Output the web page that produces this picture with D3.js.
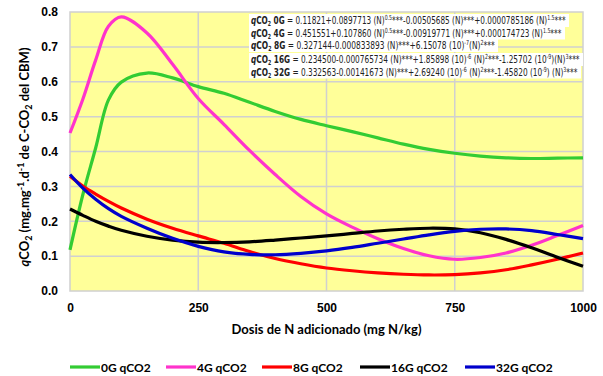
<!DOCTYPE html>
<html>
<head>
<meta charset="utf-8">
<script src="https://cdn.jsdelivr.net/npm/d3@7"></script>
<style>
  body { margin: 0; background: #fff; }
  svg { font-family: Lato, 'Open Sans', sans-serif; }
</style>
</head>
<body>
<div id="chart"></div>
<script>
// dose of N (mg N/kg) where the curves were read
const doses = [0, 25, 50, 75, 100, 150, 200, 250, 300, 350, 400, 450, 500, 550, 600, 650, 700, 750, 800, 850, 900, 950, 1000];

const g0 = [0.118, 0.276, 0.41, 0.548, 0.599, 0.625, 0.611, 0.586, 0.567, 0.541, 0.515, 0.492, 0.474, 0.457, 0.439, 0.421, 0.406, 0.395, 0.387, 0.382, 0.380, 0.381, 0.382];
const g4 = [0.453, 0.55, 0.662, 0.759, 0.786, 0.740, 0.650, 0.552, 0.478, 0.403, 0.334, 0.271, 0.221, 0.183, 0.150, 0.122, 0.101, 0.091, 0.096, 0.109, 0.131, 0.159, 0.188];
const g8 = [0.329, 0.301, 0.278, 0.257, 0.238, 0.206, 0.180, 0.158, 0.137, 0.113, 0.093, 0.078, 0.066, 0.058, 0.052, 0.048, 0.046, 0.047, 0.052, 0.061, 0.075, 0.091, 0.109];
const g16 = [0.235, 0.217, 0.200, 0.186, 0.174, 0.157, 0.146, 0.140, 0.139, 0.141, 0.146, 0.152, 0.158, 0.165, 0.172, 0.177, 0.180, 0.178, 0.167, 0.148, 0.124, 0.097, 0.071];
const g32 = [0.334, 0.295, 0.263, 0.236, 0.214, 0.180, 0.151, 0.128, 0.112, 0.105, 0.104, 0.108, 0.115, 0.125, 0.137, 0.149, 0.161, 0.171, 0.177, 0.178, 0.173, 0.162, 0.150];

const seriesNames = ['0G qCO2', '4G qCO2', '8G qCO2', '16G qCO2', '32G qCO2'];
const seriesColors = ['#33cc33', '#ff33cc', '#ff0000', '#000000', '#0000cc'];
const seriesValues = [g0, g4, g8, g16, g32];

const xTicks = [0, 250, 500, 750, 1000];
const yTicks = [0, 0.1, 0.2, 0.3, 0.4, 0.5, 0.6, 0.7, 0.8];

// regression equations shown in the white boxes (label, then pieces: [text, kind])
const equations = [
  ['0G', [['0.11821+0.0897713 (N)'], ['0.5', 'sup'], ['***-0.00505685 (N)***+0.0000785186 (N)'], ['1.5', 'sup'], ['***']]],
  ['4G', [['0.451551+0.107860 (N)'], ['0.5', 'sup'], ['***-0.00919771 (N)***+0.000174723 (N)'], ['1.5', 'sup'], ['***']]],
  ['8G', [['0.327144-0.000833893 (N)***+6.15078 (10)'], ['-7', 'sup'], ['(N)'], ['2', 'sup'], ['***']]],
  ['16G', [['0.234500-0.000765734 (N)***+1.85898 (10)'], ['-6', 'sup'], [' (N)'], ['2', 'sup'], ['***-1.25702 (10'], ['-9', 'sup'], [')(N)'], ['3', 'sup'], ['***']]],
  ['32G', [['0.332563-0.00141673 (N)***+2.69240 (10)'], ['-6', 'sup'], [' (N)'], ['2', 'sup'], ['***-1.45820 (10'], ['-9', 'sup'], [') (N)'], ['3', 'sup'], ['***']]]
];
const eqRight = [566, 562, 495, 580, 578];
const eqY = [24, 36.5, 49, 63, 75.5];

const W = 603, H = 376;
const margin = {top: 12, right: 20, bottom: 85, left: 70};
const width = W - margin.left - margin.right,
  height = H - margin.top - margin.bottom;

const svg = d3.select('#chart').append('svg')
  .attr('width', W)
  .attr('height', H);

const x = d3.scaleLinear().domain([0, 1000]).range([margin.left, margin.left + width]);
const y = d3.scaleLinear().domain([0, 0.8]).range([margin.top + height, margin.top]);

// plot background
svg.append('rect')
  .attr('x', x(0)).attr('y', y(0.8))
  .attr('width', x(1000) - x(0)).attr('height', y(0) - y(0.8))
  .attr('fill', '#ffff99')
  .attr('stroke', '#d0d0d0')
  .attr('stroke-width', 1.5);

// grid
svg.append('g').selectAll('line')
  .data(yTicks.slice(1, -1))
  .enter().append('line')
  .attr('x1', x(0)).attr('x2', x(1000))
  .attr('y1', d => y(d)).attr('y2', d => y(d))
  .attr('stroke', '#d0d0d0').attr('stroke-width', 1.5);

svg.append('g').selectAll('line')
  .data(xTicks.slice(1, -1))
  .enter().append('line')
  .attr('x1', d => x(d)).attr('x2', d => x(d))
  .attr('y1', y(0)).attr('y2', y(0.8))
  .attr('stroke', '#d0d0d0').attr('stroke-width', 1.5);

// axes (labels only)
const xAxis = d3.axisBottom(x).tickValues(xTicks).tickSize(0).tickPadding(12).tickFormat(d3.format('d'));
const yAxis = d3.axisLeft(y).tickValues(yTicks).tickSize(0).tickPadding(12).tickFormat(d3.format('.1f'));

svg.append('g')
  .attr('transform', `translate(0,${y(0)})`)
  .call(xAxis)
  .call(g => g.select('.domain').remove())
  .selectAll('text')
  .style('font-size', '12px').style('font-weight', 'bold').style('fill', '#000');

svg.append('g')
  .attr('transform', `translate(${x(0)},0)`)
  .call(yAxis)
  .call(g => g.select('.domain').remove())
  .selectAll('text')
  .style('font-size', '12px').style('font-weight', 'bold').style('fill', '#000');

// axis titles
svg.append('text')
  .attr('x', (x(0) + x(1000)) / 2)
  .attr('y', 334)
  .attr('text-anchor', 'middle')
  .style('font-size', '13px').style('font-weight', 'bold')
  .text('Dosis de N adicionado (mg N/kg)');

const yt = svg.append('text')
  .attr('transform', 'translate(29,157) rotate(-90)')
  .attr('text-anchor', 'middle')
  .style('font-size', '13px').style('font-weight', 'bold');
yt.append('tspan').style('font-style', 'italic').text('q');
yt.append('tspan').text('CO');
yt.append('tspan').attr('dy', 3).style('font-size', '9px').text('2');
yt.append('tspan').attr('dy', -3).text(' (mg.mg');
yt.append('tspan').attr('dy', -5).style('font-size', '9px').text('-1');
yt.append('tspan').attr('dy', 5).text('.d');
yt.append('tspan').attr('dy', -5).style('font-size', '9px').text('-1');
yt.append('tspan').attr('dy', 5).text(' de C-CO');
yt.append('tspan').attr('dy', 3).style('font-size', '9px').text('2');
yt.append('tspan').attr('dy', -3).text(' del CBM)');

// curves
const line = d3.line()
  .x((d, i) => x(doses[i]))
  .y(d => y(d))
  .curve(d3.curveCatmullRom.alpha(0.5));

svg.append('g').selectAll('path')
  .data(seriesValues)
  .enter().append('path')
  .attr('d', d => line(d))
  .attr('fill', 'none')
  .attr('stroke', (d, i) => seriesColors[i])
  .attr('stroke-width', 3.2)
  .attr('stroke-linejoin', 'round');

// equation boxes
const eqLeft = 251;
const eqG = svg.append('g');
equations.forEach((eq, i) => {
  const rowG = eqG.append('g');
  const bg = rowG.append('rect').attr('fill', '#fff');
  const t = rowG.append('text')
    .attr('x', 0).attr('y', 0)
    .style('font-family', "'Liberation Sans Narrow', 'DejaVu Sans Condensed', sans-serif")
    .style('font-size', '11px')
    .style('fill', '#222');
  t.append('tspan').style('font-weight', 'bold').style('font-style', 'italic').text('q');
  t.append('tspan').style('font-weight', 'bold').text('CO');
  t.append('tspan').style('font-weight', 'bold').style('font-size', '7px').attr('dy', 2).text('2');
  t.append('tspan').style('font-weight', 'bold').attr('dy', -2).text(' ' + eq[0]);
  t.append('tspan').text(' = ');
  let shift = 0;
  eq[1].forEach(p => {
    const ts = t.append('tspan').text(p[0]);
    if (p[1] === 'sup') {
      ts.attr('dy', -4 - shift).style('font-size', '7px');
      shift = -4;
    } else {
      ts.attr('dy', -shift);
      shift = 0;
    }
  });
  const w = t.node().getComputedTextLength();
  const sx = (eqRight[i] - eqLeft) / w;
  rowG.attr('transform', `translate(${eqLeft},${eqY[i]}) scale(${sx},1)`);
  bg.attr('x', -2 / sx).attr('y', -10).attr('width', w + 5 / sx).attr('height', 13);
});

// legend
const legendX = [70, 166, 262, 360, 465];
const lg = svg.append('g').selectAll('g')
  .data(seriesNames)
  .enter().append('g')
  .attr('transform', (d, i) => `translate(${legendX[i]},367)`);
lg.append('line')
  .attr('x1', 0).attr('x2', 30).attr('y1', 0).attr('y2', 0)
  .attr('stroke', (d, i) => seriesColors[i]).attr('stroke-width', 3.2);
lg.append('text')
  .attr('x', 31).attr('y', 4.5)
  .style('font-size', '12px').style('font-weight', 'bold')
  .text(d => d);
</script>
</body>
</html>
